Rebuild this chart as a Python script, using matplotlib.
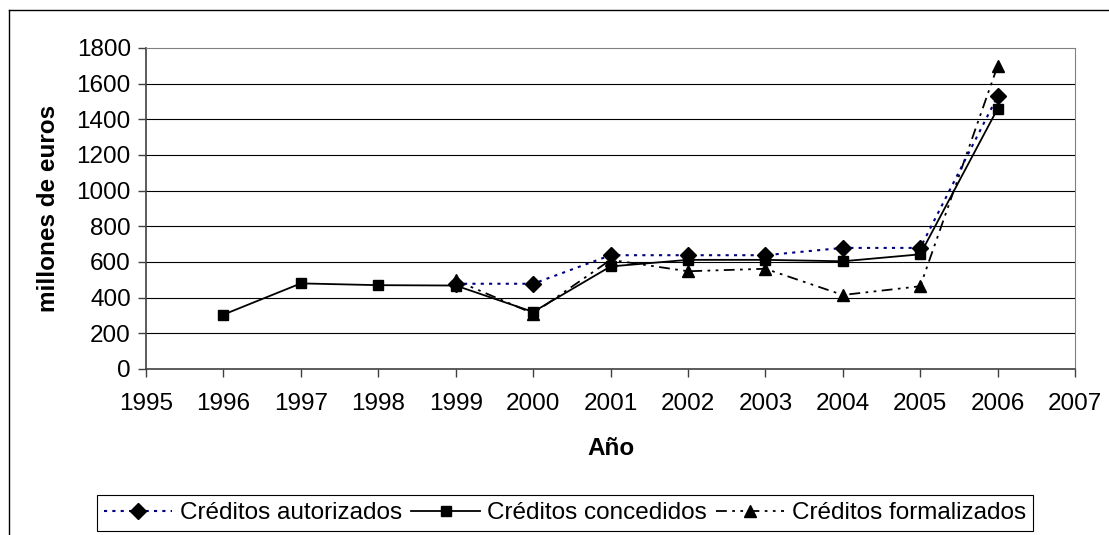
import matplotlib
matplotlib.use("Agg")
import matplotlib.pyplot as plt
from matplotlib.lines import Line2D

plt.rcParams["font.family"] = ["Liberation Sans", "DejaVu Sans"]
plt.rcParams["font.size"] = 17.5

# data (millones de euros)
years_conc = [1996, 1997, 1998, 1999, 2000, 2001, 2002, 2003, 2004, 2005, 2006]
concedidos = [305, 480, 470, 468, 320, 575, 612, 612, 604, 643, 1460]

years_aut = [1999, 2000, 2001, 2002, 2003, 2004, 2005, 2006]
autorizados = [478, 478, 638, 638, 638, 679, 679, 1530]

years_form = [1999, 2000, 2001, 2002, 2003, 2004, 2005, 2006]
formalizados = [497, 311, 612, 548, 562, 415, 464, 1700]

xticks = list(range(1995, 2008))
yticks = list(range(0, 1801, 200))

fig = plt.figure(figsize=(11.09, 5.35), dpi=100)
ax = fig.add_axes([0.1317, 0.3103, 0.8377, 0.6])

ax.set_xlim(1995, 2007)
ax.set_ylim(0, 1800)
ax.set_xticks(xticks)
ax.set_yticks(yticks)
for y in yticks[1:-1]:
    ax.axhline(y, color="black", lw=0.8, zorder=1)

ax.plot(years_aut, autorizados, ls=(0, (1.5, 2.5)), color="#000080", lw=1.5,
        marker="D", ms=8, mfc="black", mec="black", zorder=3,
        label="Créditos autorizados")
ax.plot(years_conc, concedidos, ls="-", color="black", lw=1.3,
        marker="s", ms=7, mfc="black", mec="black", zorder=4,
        label="Créditos concedidos")
ax.plot(years_form, formalizados, ls=(0, (6, 3, 1.5, 3, 1.5, 3)), color="black", lw=1.3,
        marker="^", ms=8, mfc="black", mec="black", zorder=2,
        label="Créditos formalizados")

for side in ("top", "right"):
    ax.spines[side].set_color("#808080")
for side in ("left", "bottom"):
    ax.spines[side].set_color("#404040")
    ax.spines[side].set_linewidth(1.2)
ax.tick_params(direction="out", length=6, width=1, color="#404040")
ax.tick_params(axis="x", pad=11)
ax.tick_params(axis="y", pad=5)

ax.set_xlabel("Año", fontweight="bold", labelpad=16)
ax.set_ylabel("millones de euros", fontweight="bold", labelpad=12)

leg = fig.legend(loc="center", bbox_to_anchor=(0.5095, 0.041), ncol=3,
                 frameon=True, fancybox=False, framealpha=1, edgecolor="black",
                 handlelength=2.8, columnspacing=0.4, handletextpad=0.3,
                 borderpad=0.3)
leg.get_frame().set_linewidth(0.8)

# outer chart frame (clipped at right and bottom like the reference)
fig.add_artist(Line2D([9 / 1109, 1.0], [1 - 10 / 535, 1 - 10 / 535],
                      transform=fig.transFigure, color="black", lw=1))
fig.add_artist(Line2D([9 / 1109, 9 / 1109], [0.0, 1 - 10 / 535],
                      transform=fig.transFigure, color="black", lw=1))

fig.savefig("out.png", dpi=100)
plt.close(fig)
